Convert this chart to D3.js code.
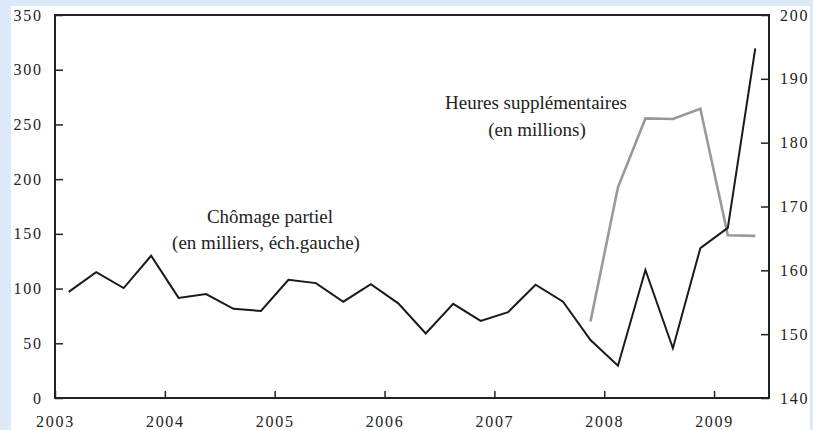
<!DOCTYPE html>
<html lang="fr">
<head>
    <meta charset="UTF-8">
    <title>Chômage partiel et heures supplémentaires</title>
    <style>
        body { margin: 0; background: #dde9f8; }
        svg { display: block; }
        text { font-family: "Liberation Serif", "Times New Roman", serif; fill: #222; }
        .tick text { font-size: 16px; letter-spacing: 1.7px; }
        .lbl { font-size: 19px; }
    </style>
</head>
<body>
    <script src="https://d3js.org/d3.v7.min.js"></script>
    <script>
        // Trimestres (2003T1 .. 2009T2)
        const quarters = ["2003T1","2003T2","2003T3","2003T4","2004T1","2004T2","2004T3","2004T4",
            "2005T1","2005T2","2005T3","2005T4","2006T1","2006T2","2006T3","2006T4",
            "2007T1","2007T2","2007T3","2007T4","2008T1","2008T2","2008T3","2008T4",
            "2009T1","2009T2"];
        // Chômage partiel, en milliers (échelle gauche)
        const chomage = [97, 115, 100.5, 130, 91.5, 95, 81.5, 79.5, 108, 105, 88, 104,
            86.5, 59, 86, 70.5, 78.5, 103.5, 88, 53, 29.5, 117, 45.5, 137, 155.5, 319.5];
        // Heures supplémentaires, en millions (échelle droite), à partir de 2007T4
        const heuresQuarters = ["2007T4","2008T1","2008T2","2008T3","2008T4","2009T1","2009T2"];
        const heures = [152, 173, 183.8, 183.7, 185.3, 165.5, 165.4];
        const yearTicks = [2003, 2004, 2005, 2006, 2007, 2008, 2009];
        const leftTicks = [0, 50, 100, 150, 200, 250, 300, 350];
        const rightTicks = [140, 150, 160, 170, 180, 190, 200];

        const W = 813, H = 430;
        const plot = {left: 55, right: 769, top: 15, bottom: 398};

        function qPos(q) {
            const y = +q.slice(0, 4), n = +q.slice(5);
            return y + (n - 0.5) / 4;
        }

        const svg = d3.select("body").append("svg")
            .attr("width", W)
            .attr("height", H);

        // white panel
        svg.append("rect")
            .attr("x", 11).attr("y", 6)
            .attr("width", 799).attr("height", H - 6)
            .attr("fill", "#fff");

        const x = d3.scaleLinear().domain([2003, 2009.5]).range([plot.left, plot.right]);
        const yL = d3.scaleLinear().domain([0, 350]).range([plot.bottom, plot.top]);
        const yR = d3.scaleLinear().domain([140, 200]).range([plot.bottom, plot.top]);

        // frame
        svg.append("rect")
            .attr("x", plot.left).attr("y", plot.top)
            .attr("width", plot.right - plot.left)
            .attr("height", plot.bottom - plot.top)
            .attr("fill", "none")
            .attr("stroke", "#222")
            .attr("stroke-width", 2);

        const axL = svg.append("g")
            .attr("transform", `translate(${plot.left},0)`)
            .call(d3.axisLeft(yL).tickValues(leftTicks).tickSize(-8).tickPadding(14));
        const axR = svg.append("g")
            .attr("transform", `translate(${plot.right},0)`)
            .call(d3.axisRight(yR).tickValues(rightTicks).tickSize(-8).tickPadding(11));
        const axB = svg.append("g")
            .attr("transform", `translate(0,${plot.bottom})`)
            .call(d3.axisBottom(x).tickValues(yearTicks).tickFormat(d3.format("d")).tickSize(-7).tickPadding(18));

        [axL, axR, axB].forEach(function(g) {
            g.select(".domain").remove();
            g.selectAll(".tick line").attr("stroke", "#222").attr("stroke-width", 1.5);
            g.selectAll(".tick text").attr("font-size", null).attr("font-family", null);
        });
        axL.selectAll(".tick text").attr("dx", "0.1em");

        // lines
        const lineL = d3.line()
            .x(function(d) { return x(qPos(d.q)); })
            .y(function(d) { return yL(d.v); });
        const lineR = d3.line()
            .x(function(d) { return x(qPos(d.q)); })
            .y(function(d) { return yR(d.v); });

        svg.append("path")
            .datum(heuresQuarters.map(function(q, i) { return {q: q, v: heures[i]}; }))
            .attr("d", lineR)
            .attr("fill", "none")
            .attr("stroke", "#999")
            .attr("stroke-width", 2.6);

        svg.append("path")
            .datum(quarters.map(function(q, i) { return {q: q, v: chomage[i]}; }))
            .attr("d", lineL)
            .attr("fill", "none")
            .attr("stroke", "#1a1a1a")
            .attr("stroke-width", 2);

        // annotations
        const notes = [
            {t: "Chômage partiel", x: 270, y: 223},
            {t: "(en milliers, éch.gauche)", x: 266, y: 249},
            {t: "Heures supplémentaires", x: 536, y: 109},
            {t: "(en millions)", x: 537, y: 136}
        ];
        svg.selectAll(".lbl")
            .data(notes)
            .enter().append("text")
            .attr("class", "lbl")
            .attr("x", function(d) { return d.x; })
            .attr("y", function(d) { return d.y; })
            .attr("text-anchor", "middle")
            .text(function(d) { return d.t; });
    </script>
</body>
</html>
